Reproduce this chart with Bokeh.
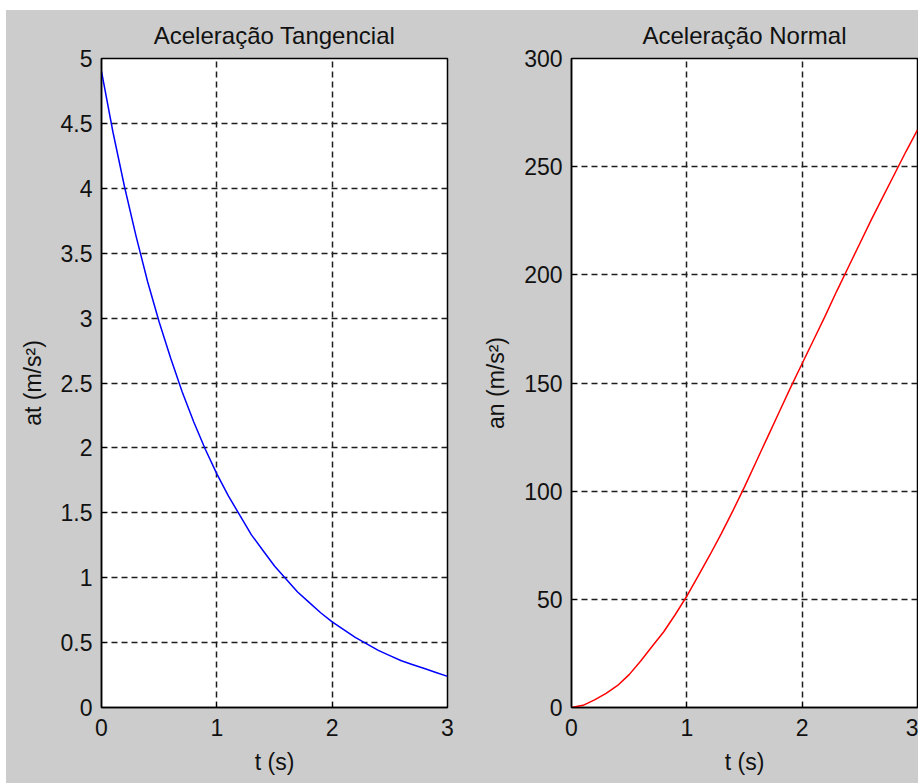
from bokeh.plotting import figure
from bokeh.layouts import row
from bokeh.models import Range1d, FixedTicker, CustomJSTickFormatter
from bokeh.embed import file_html
from bokeh.resources import INLINE

# time samples (s)
t_s = [0.0, 0.1, 0.2, 0.3, 0.4, 0.5, 0.6, 0.7, 0.8, 0.9, 1.0,
       1.1, 1.2, 1.3, 1.4, 1.5, 1.6, 1.7, 1.8, 1.9, 2.0,
       2.1, 2.2, 2.3, 2.4, 2.5, 2.6, 2.7, 2.8, 2.9, 3.0]

# tangential acceleration (m/s^2)
at_vals = [4.90, 4.43, 4.01, 3.63, 3.28, 2.97, 2.69, 2.43, 2.20, 1.99, 1.80,
           1.63, 1.48, 1.33, 1.21, 1.09, 0.99, 0.89, 0.81, 0.73, 0.66,
           0.60, 0.54, 0.49, 0.44, 0.40, 0.36, 0.33, 0.30, 0.27, 0.24]

# normal acceleration (m/s^2)
an_vals = [0.0, 1.0, 3.5, 6.5, 10.2, 15.2, 21.5, 28.3, 35.0, 43.0, 51.5,
           61.0, 70.5, 80.5, 91.0, 102.0, 113.5, 125.0, 136.5, 148.0, 159.0,
           170.0, 181.0, 192.5, 203.5, 214.5, 225.5, 236.0, 246.5, 257.0, 267.0]

x_ticks = [0, 1, 2, 3]
at_ticks = [0, 0.5, 1, 1.5, 2, 2.5, 3, 3.5, 4, 4.5, 5]
an_ticks = [0, 50, 100, 150, 200, 250, 300]

FONT = "Liberation Sans"
BG = "#cccccc"
INK = "#111111"


def make_panel(title, ylabel, yticks, ymax, border_left, border_right, width_px):
    p = figure(
        width=width_px, height=773,
        x_range=Range1d(0, 3), y_range=Range1d(0, ymax),
        output_backend="svg", toolbar_location=None,
        min_border_left=border_left, min_border_right=border_right,
        min_border_top=48, min_border_bottom=76,
        background_fill_color="white", border_fill_color=BG,
        title=title,
    )
    p.title.align = "center"
    p.title.text_font = FONT
    p.title.text_font_style = "normal"
    p.title.text_font_size = "24px"
    p.title.text_color = INK
    p.title.standoff = 19

    p.outline_line_color = "#000000"
    p.outline_line_width = 1.5
    p.outline_line_alpha = 1.0

    fmt = CustomJSTickFormatter(code="return String(Number(tick.toFixed(2)));")

    p.xaxis.ticker = FixedTicker(ticks=x_ticks)
    p.yaxis.ticker = FixedTicker(ticks=yticks)
    p.xaxis.formatter = fmt
    p.yaxis.formatter = fmt
    p.xaxis.axis_label = "t (s)"
    p.yaxis.axis_label = ylabel

    for ax in (p.xaxis[0], p.yaxis[0]):
        ax.axis_line_color = "#000000"
        ax.axis_line_width = 1.5
        ax.major_tick_in = 5
        ax.major_tick_out = 0
        ax.minor_tick_in = 0
        ax.minor_tick_out = 0
        ax.major_tick_line_color = "#000000"
        ax.major_label_text_font = FONT
        ax.major_label_text_font_size = "23px"
        ax.major_label_text_color = INK
        ax.axis_label_text_font = FONT
        ax.axis_label_text_font_size = "23px"
        ax.axis_label_text_font_style = "normal"
        ax.axis_label_text_color = INK
    p.xaxis.major_label_standoff = 11
    p.yaxis.major_label_standoff = 9
    p.xaxis.axis_label_standoff = 10
    p.yaxis.axis_label_standoff = 12

    p.xgrid.ticker = FixedTicker(ticks=x_ticks)
    p.ygrid.ticker = FixedTicker(ticks=yticks)
    for g in (p.xgrid[0], p.ygrid[0]):
        g.grid_line_color = "#1e1e1e"
        g.grid_line_width = 1.5
        g.grid_line_dash = "6 4"
    return p


p1 = make_panel("Aceleração Tangencial", "at (m/s²)", at_ticks, 5, 95, 18, 459)
p1.line(t_s, at_vals, line_color="#0000ff", line_width=1.5)

p2 = make_panel("Aceleração Normal", "an (m/s²)", an_ticks, 300, 106, 1, 453)
p2.line(t_s, an_vals, line_color="#ff0000", line_width=1.5)

layout = row(p1, p2, spacing=0, margin=(10, 0, 0, 6),
             styles={"background-color": BG})

open("out.html", "w").write(file_html(layout, INLINE))
